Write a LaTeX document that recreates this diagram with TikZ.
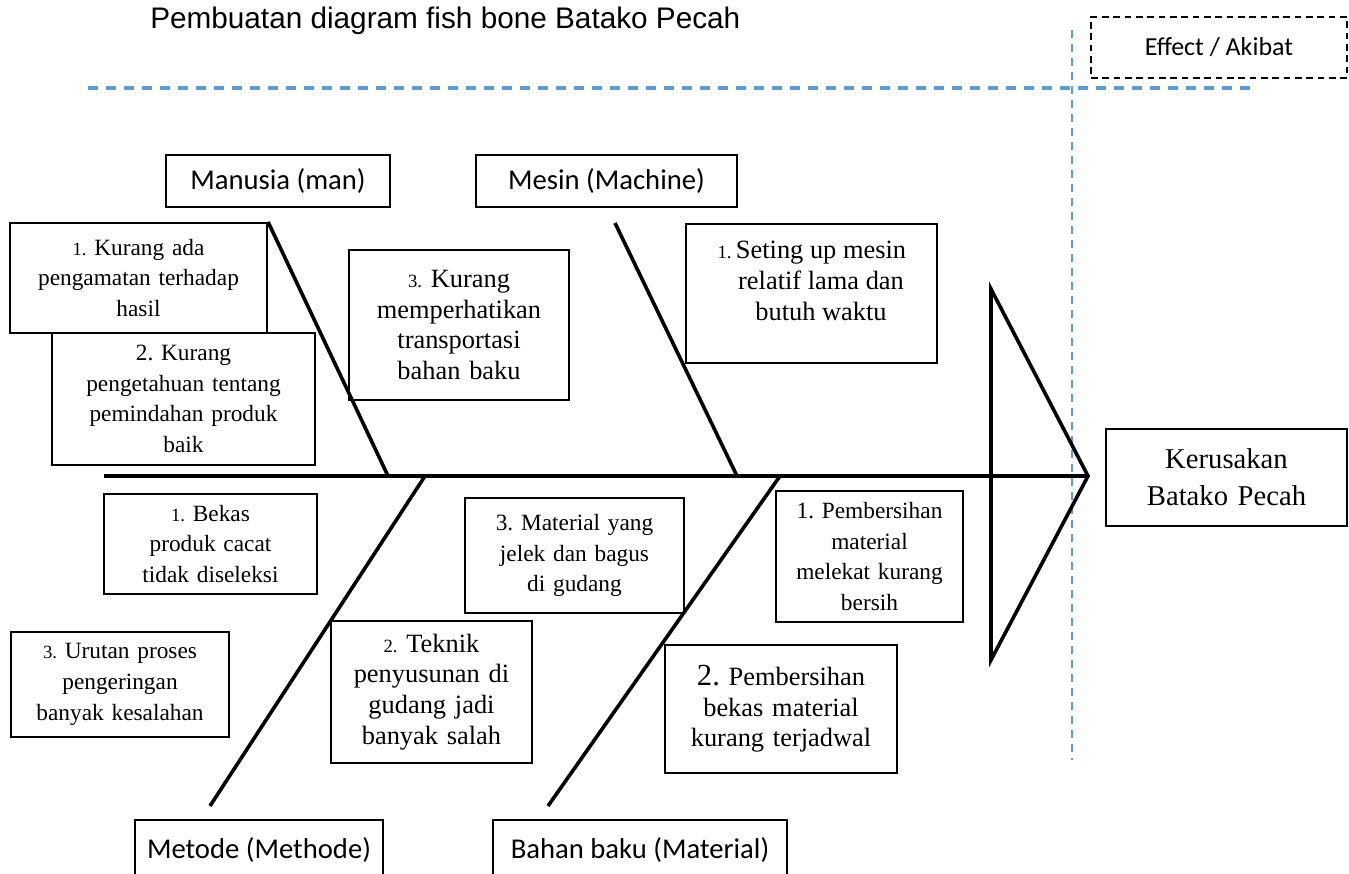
\documentclass[tikz,border=0pt]{standalone}
\usepackage{fontspec}
\setmainfont{Liberation Serif}
\newfontfamily\calibrifont{Carlito}
\newfontfamily\arialfont{Liberation Sans}
\definecolor{guideblue}{RGB}{91,155,213}
\newcommand\cnum[1]{{\fontsize{14}{14}\selectfont #1}}
\frenchspacing
\tikzset{
  causebox/.style={draw, line width=1.6pt, inner sep=0pt, align=center, font=\fontsize{17.5}{23}\selectfont},
  bigcause/.style={causebox, font=\fontsize{19.8}{23}\selectfont},
  catbox/.style={draw, line width=1.4pt, inner sep=0pt, font=\calibrifont\fontsize{21.5}{24}\selectfont},
  bone/.style={line width=2.7pt},
  guide/.style={draw=guideblue, dash pattern=on 7.5pt off 6pt},
}

\begin{document}
\begin{tikzpicture}[x=0.75pt,y=0.75pt,yscale=-1,xscale=1]
\useasboundingbox (0,0) rectangle (1349,874);

% Title
\node[anchor=west, inner sep=0pt, font=\arialfont\fontsize{22.3}{26}\selectfont] (title) at (150,21) {Pembuatan diagram fish bone Batako Pecah};

%Dashed guides
\draw[guide, line width=3pt] (88,88) -- (1253,88);
\draw[guide, line width=1.5pt, dash pattern=on 6pt off 4.5pt] (1072,30) -- (1072,760);

% Effect label
\node[catbox, dash pattern=on 5pt off 3.5pt, line width=2pt, minimum width=192pt, minimum height=45.75pt, font=\calibrifont\fontsize{19.5}{22}\selectfont] (effect) at (1219,47.5) {Effect / Akibat};

% Category boxes
\node[catbox, minimum width=168pt, minimum height=39pt] (man) at (278,181) {Manusia (man)};
\node[catbox, minimum width=195.75pt, minimum height=39pt] (mesin) at (606.5,181) {Mesin (Machine)};
\node[catbox, minimum width=186pt, minimum height=45pt] (metode) at (259,850) {Metode (Methode)};
\node[catbox, minimum width=220.5pt, minimum height=45pt] (bahan) at (640,850) {Bahan baku (Material)};

% Cause boxes
\node[causebox, text width=192.75pt, minimum height=82.5pt] (k1) at (138.5,278) {\cnum{1.} Kurang ada\\pengamatan terhadap\\hasil};
\node[causebox, text width=197.25pt, minimum height=99pt, fill=white] (k2) at (183.5,399) {2. Kurang\\pengetahuan tentang\\pemindahan produk\\baik};
\node[bigcause, text width=165pt, minimum height=112.5pt] (k3) at (459,325) {\cnum{3.} Kurang\\memperhatikan\\transportasi\\bahan baku};
\node[causebox, text width=188.25pt, minimum height=104.25pt] (s1) at (811.5,293.5) {};
\node[inner sep=0pt, align=center, anchor=north, font=\fontsize{19.8}{23}\selectfont] (s1txt) at (821,241) {\llap{\cnum{1.}\,}Seting up mesin\\relatif lama dan\\butuh waktu};
\node[causebox, text width=159.75pt, minimum height=75pt] (b1) at (210.5,544) {\cnum{1.} Bekas\\produk cacat\\tidak diseleksi};
\node[causebox, text width=163.5pt, minimum height=78.75pt] (u3) at (120,684.5) {\cnum{3.} Urutan proses\\pengeringan\\banyak kesalahan};
\node[bigcause, text width=150.75pt, minimum height=106.5pt] (t2) at (431.5,692) {\cnum{2.} Teknik\\penyusunan di\\gudang jadi\\banyak salah};
\node[causebox, text width=164.25pt, minimum height=86.25pt] (m3) at (574.5,555.5) {3. Material yang\\jelek dan bagus\\di gudang};
\node[causebox, text width=140.25pt, minimum height=98.25pt] (p1) at (869.5,556.5) {1. Pembersihan\\material\\melekat kurang\\bersih};
\node[bigcause, text width=174pt, minimum height=96pt] (p2) at (781,709) {{\fontsize{23}{23}\selectfont 2.} Pembersihan\\bekas material\\kurang terjadwal};

% Result box
\node[causebox, text width=180.75pt, minimum height=72.75pt, font=\fontsize{21.5}{27.5}\selectfont] (kr) at (1226.5,477.5) {Kerusakan\\Batako Pecah};

%Spine and head
\coordinate (tail) at (104,476);
\coordinate (tip) at (1088,476);
\coordinate (headT) at (991,289);
\coordinate (headB) at (991,660);
\draw[line width=2.4pt] (tail) -- (tip);
\draw[bone] (headT) -- (tip) -- (headB) -- cycle;

%Bones
\coordinate (manJ) at (388,476);
\coordinate (mesTop) at (615,223);
\coordinate (mesJ) at (737,476);
\coordinate (metJ) at (425,476);
\coordinate (metBot) at (210,806);
\coordinate (matJ) at (780,476);
\coordinate (matBot) at (548,806);
\draw[bone] (k1.north east) -- (manJ);
\draw[bone] (mesTop) -- (mesJ);
\draw[bone] (metJ) -- (metBot);
\draw[bone] (matJ) -- (matBot);

\end{tikzpicture}
\end{document}
